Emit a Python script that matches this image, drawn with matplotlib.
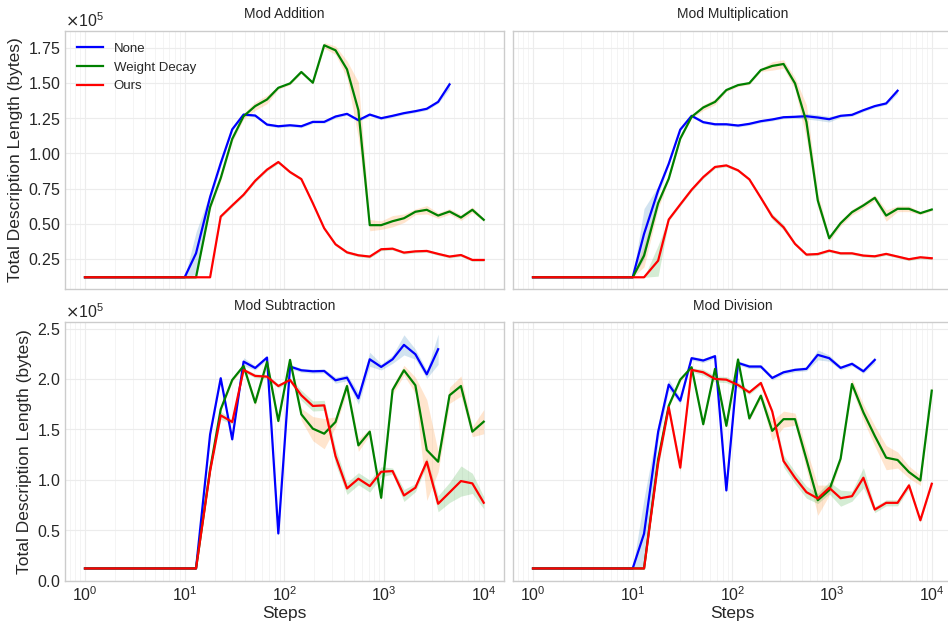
import matplotlib
matplotlib.use("Agg")
import matplotlib.pyplot as plt
import numpy as np

# training steps (log spaced)
steps = [1, 2, 3, 4, 6, 8, 10, 13, 18, 23, 30, 39, 51, 67, 87, 114, 148, 193, 251,
         326, 425, 553, 719, 936, 1218, 1584, 2062, 2682, 3489, 4540, 5907, 7686, 10000]

# values in units of 1e5 bytes
add_none = [0.12, 0.12, 0.12, 0.12, 0.12, 0.12, 0.12, 0.29, 0.69, 0.93, 1.17, 1.275, 1.268,
            1.204, 1.192, 1.199, 1.192, 1.223, 1.223, 1.261, 1.28, 1.235, 1.275, 1.249,
            1.266, 1.285, 1.299, 1.316, 1.365, 1.489]
add_none_sd = [0, 0, 0, 0, 0, 0, 0, 0.15, 0.03, 0.02, 0.01, 0.01, 0.01, 0.01, 0.01, 0.01,
               0.01, 0.01, 0.01, 0.01, 0.01, 0.01, 0.01, 0.01, 0.01, 0.01, 0.01, 0.01, 0.01, 0.03]
add_wd = [0.12, 0.12, 0.12, 0.12, 0.12, 0.12, 0.12, 0.12, 0.618, 0.824, 1.102, 1.263, 1.335,
          1.382, 1.465, 1.496, 1.577, 1.501, 1.767, 1.731, 1.596, 1.306, 0.49, 0.49, 0.518,
          0.539, 0.585, 0.599, 0.558, 0.587, 0.544, 0.599, 0.528]
add_wd_sd = [0, 0, 0, 0, 0, 0, 0, 0, 0.02, 0.02, 0.02, 0.02, 0.03, 0.03, 0.01, 0.01, 0.01,
             0.01, 0.02, 0.03, 0.06, 0.2, 0.04, 0.03, 0.04, 0.03, 0.02, 0.03, 0.02, 0.02,
             0.02, 0.02, 0.01]
add_ours = [0.12, 0.12, 0.12, 0.12, 0.12, 0.12, 0.12, 0.12, 0.12, 0.551, 0.63, 0.706, 0.805,
            0.884, 0.938, 0.867, 0.817, 0.646, 0.468, 0.354, 0.297, 0.276, 0.267, 0.319,
            0.323, 0.295, 0.304, 0.307, 0.286, 0.267, 0.278, 0.243, 0.243]
add_ours_sd = [0, 0, 0, 0, 0, 0, 0, 0, 0, 0.01, 0.01, 0.01, 0.01, 0.01, 0.01, 0.01, 0.01,
               0.01, 0.01, 0.01, 0.01, 0.01, 0.01, 0.01, 0.01, 0.01, 0.01, 0.01, 0.01, 0.01,
               0.01, 0.01, 0.01]

mul_none = [0.12, 0.12, 0.12, 0.12, 0.12, 0.12, 0.12, 0.428, 0.736, 0.926, 1.168, 1.266,
            1.221, 1.206, 1.206, 1.197, 1.209, 1.228, 1.24, 1.256, 1.259, 1.263, 1.254,
            1.242, 1.266, 1.273, 1.306, 1.335, 1.354, 1.444]
mul_none_sd = [0, 0, 0, 0, 0, 0, 0, 0.18, 0.03, 0.01, 0.01, 0.01, 0.01, 0.01, 0.01, 0.01,
               0.01, 0.01, 0.01, 0.01, 0.01, 0.02, 0.02, 0.02, 0.01, 0.01, 0.01, 0.01, 0.01, 0.02]
mul_wd = [0.12, 0.12, 0.12, 0.12, 0.12, 0.12, 0.12, 0.274, 0.646, 0.82, 1.104, 1.259, 1.325,
          1.365, 1.449, 1.484, 1.498, 1.591, 1.62, 1.634, 1.496, 1.223, 0.665, 0.397, 0.504,
          0.582, 0.63, 0.684, 0.558, 0.606, 0.606, 0.575, 0.601]
mul_wd_sd = [0, 0, 0, 0, 0, 0, 0, 0.08, 0.04, 0.01, 0.01, 0.01, 0.02, 0.02, 0.01, 0.01,
             0.01, 0.01, 0.03, 0.03, 0.04, 0.12, 0.05, 0.02, 0.02, 0.02, 0.02, 0.02, 0.04,
             0.02, 0.02, 0.01, 0.01]
mul_ours = [0.12, 0.12, 0.12, 0.12, 0.12, 0.12, 0.12, 0.12, 0.238, 0.53, 0.637, 0.741,
            0.831, 0.903, 0.914, 0.879, 0.815, 0.684, 0.551, 0.475, 0.357, 0.281, 0.285,
            0.309, 0.29, 0.29, 0.274, 0.269, 0.286, 0.267, 0.248, 0.262, 0.255]
mul_ours_sd = [0, 0, 0, 0, 0, 0, 0, 0, 0.11, 0.01, 0.01, 0.01, 0.01, 0.01, 0.01, 0.01, 0.01,
               0.01, 0.02, 0.02, 0.01, 0.01, 0.01, 0.01, 0.01, 0.01, 0.01, 0.01, 0.01, 0.01,
               0.01, 0.01, 0.01]

sub_none = [0.12, 0.12, 0.12, 0.12, 0.12, 0.12, 0.12, 0.12, 1.45, 2.007, 1.401, 2.172,
            2.109, 2.212, 0.467, 2.123, 2.086, 2.076, 2.079, 1.987, 2.013, 1.808, 2.195,
            2.119, 2.195, 2.338, 2.245, 2.046, 2.295]
sub_none_sd = [0, 0, 0, 0, 0, 0, 0, 0, 0.02, 0.02, 0.02, 0.04, 0.02, 0.02, 0.02, 0.02, 0.02,
               0.02, 0.02, 0.03, 0.03, 0.06, 0.07, 0.03, 0.04, 0.1, 0.05, 0.04, 0.15]
sub_wd = [0.12, 0.12, 0.12, 0.12, 0.12, 0.12, 0.12, 0.12, 1.103, 1.699, 1.99, 2.129, 1.765,
          2.169, 1.583, 2.189, 1.649, 1.507, 1.457, 1.573, 1.93, 1.341, 1.477, 0.821, 1.891,
          2.086, 1.937, 1.295, 1.179, 1.838, 1.93, 1.477, 1.576]
sub_wd_sd = [0, 0, 0, 0, 0, 0, 0, 0, 0.02, 0.02, 0.02, 0.02, 0.03, 0.04, 0.02, 0.02, 0.06,
             0.12, 0.15, 0.05, 0.05, 0.06, 0.03, 0.03, 0.04, 0.05, 0.08, 0.5, 0.1, 0.08,
             0.1, 0.05, 0.12]
sub_ours = [0.12, 0.12, 0.12, 0.12, 0.12, 0.12, 0.12, 0.12, 1.086, 1.639, 1.573, 2.089,
            2.03, 2.023, 1.93, 1.99, 1.838, 1.732, 1.738, 1.235, 0.914, 1.01, 0.937, 1.079,
            1.086, 0.844, 0.921, 1.179, 0.762, 0.874, 0.987, 0.964, 0.772]
sub_ours_sd = [0, 0, 0, 0, 0, 0, 0, 0, 0.02, 0.04, 0.02, 0.02, 0.02, 0.02, 0.02, 0.02, 0.05,
               0.05, 0.05, 0.08, 0.06, 0.06, 0.06, 0.05, 0.03, 0.06, 0.04, 0.04, 0.08, 0.1,
               0.15, 0.1, 0.06]

div_none = [0.12, 0.12, 0.12, 0.12, 0.12, 0.12, 0.12, 0.465, 1.475, 1.944, 1.784, 2.206,
            2.183, 2.226, 0.894, 2.159, 2.123, 2.123, 2.01, 2.066, 2.09, 2.1, 2.239, 2.206,
            2.11, 2.15, 2.076, 2.189]
div_none_sd = [0, 0, 0, 0, 0, 0, 0, 0.35, 0.08, 0.05, 0.03, 0.02, 0.02, 0.02, 0.02, 0.02,
               0.02, 0.02, 0.02, 0.02, 0.02, 0.02, 0.05, 0.03, 0.02, 0.02, 0.02, 0.03]
div_wd = [0.12, 0.12, 0.12, 0.12, 0.12, 0.12, 0.12, 0.12, 1.203, 1.734, 1.993, 2.116, 1.551,
          2.1, 1.535, 2.193, 1.608, 1.834, 1.485, 1.601, 1.601, 1.203, 0.797, 0.897, 1.209,
          1.95, 1.668, 1.435, 1.219, 1.196, 1.076, 0.993, 1.884]
div_wd_sd = [0, 0, 0, 0, 0, 0, 0, 0, 0.03, 0.02, 0.02, 0.02, 0.02, 0.02, 0.02, 0.02, 0.02,
             0.03, 0.1, 0.08, 0.06, 0.1, 0.15, 0.05, 0.03, 0.05, 0.08, 0.1, 0.12, 0.08,
             0.06, 0.05, 0.05]
div_ours = [0.12, 0.12, 0.12, 0.12, 0.12, 0.12, 0.12, 0.12, 1.169, 1.718, 1.12, 2.09, 2.066,
            2.0, 1.993, 1.94, 1.867, 1.96, 1.678, 1.186, 1.02, 0.877, 0.814, 0.92, 0.817,
            0.837, 1.02, 0.704, 0.771, 0.771, 0.944, 0.598, 0.96]
div_ours_sd = [0, 0, 0, 0, 0, 0, 0, 0, 0.05, 0.04, 0.04, 0.02, 0.03, 0.03, 0.03, 0.03, 0.02,
               0.02, 0.02, 0.06, 0.06, 0.06, 0.05, 0.06, 0.08, 0.05, 0.1, 0.03, 0.03, 0.03,
               0.03, 0.02, 0.02]

titles = ["Mod Addition", "Mod Multiplication", "Mod Subtraction", "Mod Division"]
labels = ["None", "Weight Decay", "Ours"]
line_colors = ["blue", "green", "red"]
band_colors = ["#1f77b4", "#ff7f0e", "#2ca02c"]   # default cycle, as in the original fills

panels = [
    [(add_none, add_none_sd), (add_wd, add_wd_sd), (add_ours, add_ours_sd)],
    [(mul_none, mul_none_sd), (mul_wd, mul_wd_sd), (mul_ours, mul_ours_sd)],
    [(sub_none, sub_none_sd), (sub_wd, sub_wd_sd), (sub_ours, sub_ours_sd)],
    [(div_none, div_none_sd), (div_wd, div_wd_sd), (div_ours, div_ours_sd)],
]

plt.rcParams['font.family'] = ['Liberation Sans', 'DejaVu Sans']
plt.rcParams['axes.formatter.use_mathtext'] = True
plt.rcParams['text.color'] = '#262626'
plt.rcParams['axes.labelcolor'] = '#262626'
plt.rcParams['xtick.color'] = '#262626'
plt.rcParams['ytick.color'] = '#262626'

fig, axes = plt.subplots(2, 2, sharex=True, sharey='row', figsize=(9.48, 6.21), dpi=100)
fig.subplots_adjust(left=0.0686, right=1.0039, bottom=0.0649, top=0.9506,
                    wspace=0.0214, hspace=0.129)

for k, ax in enumerate(axes.flat):
    for j, (vals, sd) in enumerate(panels[k]):
        y = np.array(vals) * 1e5
        s = np.array(sd) * 1e5
        x = steps[:len(vals)]
        ax.plot(x, y, color=line_colors[j], lw=1.6, label=labels[j])
        ax.fill_between(x, y - s, y + s, color=band_colors[j], alpha=0.2, lw=0)
    ax.set_xscale('log')
    ax.set_title(titles[k], fontsize=10, pad=9)
    ax.ticklabel_format(axis='y', style='sci', scilimits=(0, 0))
    ax.set_facecolor('white')
    ax.grid(True, which='major', color='#ececec', lw=0.8)
    ax.grid(True, which='minor', axis='x', color='#f3f3f3', lw=0.6)
    ax.set_axisbelow(True)
    for i in ['top', 'bottom', 'left', 'right']:
        ax.spines[i].set_color('#cccccc')
        ax.spines[i].set_linewidth(1.0)
    ax.tick_params(axis='both', which='both', length=0, labelsize=11.5, pad=3)
    ax.yaxis.get_offset_text().set_fontsize(11.5)

axes[0, 0].set_ylabel('Total Description Length (bytes)', fontsize=12.5)
axes[1, 0].set_ylabel('Total Description Length (bytes)', fontsize=12.5)
axes[1, 0].set_xlabel('Steps', fontsize=12.5, labelpad=2)
axes[1, 1].set_xlabel('Steps', fontsize=12.5, labelpad=2)
axes[0, 0].legend(loc='upper left', frameon=False, fontsize=9.5)

fig.savefig('out.png', dpi=100)
